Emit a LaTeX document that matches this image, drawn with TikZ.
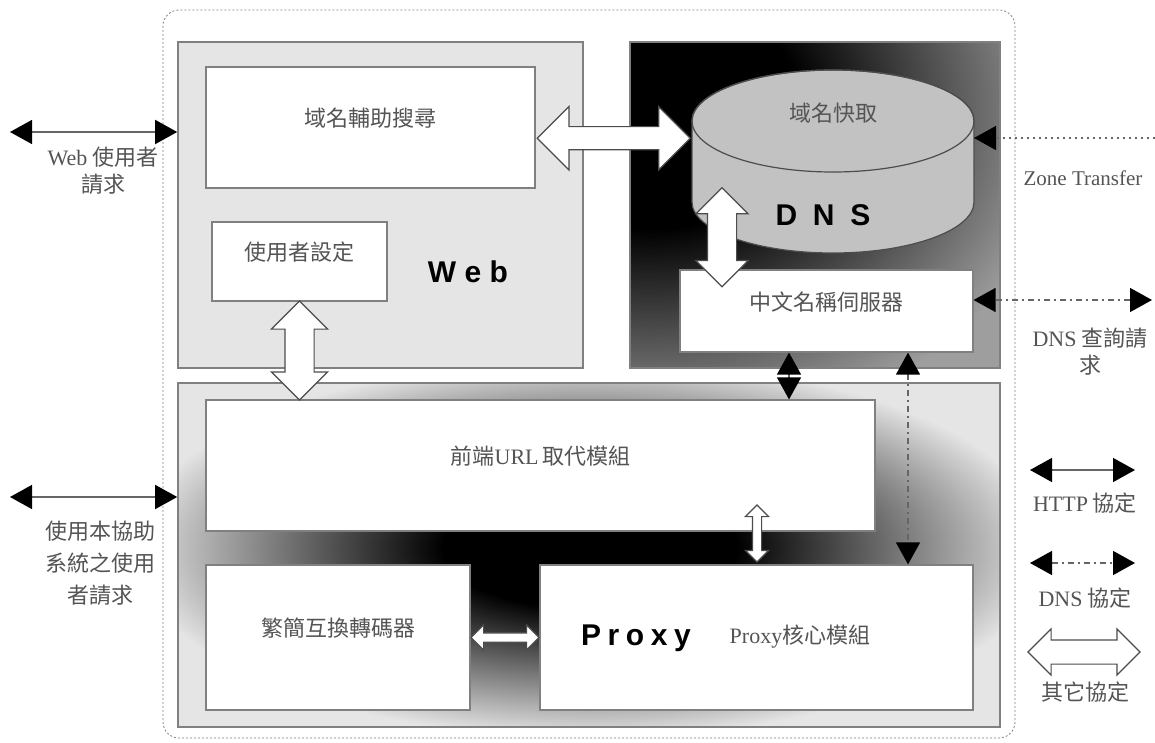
\documentclass[tikz,border=0pt]{standalone}
\usepackage{fontspec}
\setmainfont{Liberation Serif}
\setsansfont{Liberation Sans}
\newfontfamily\zhfont{Noto Sans CJK TC}
\usetikzlibrary{positioning,arrows.meta,shapes.arrows,calc,fit}

\definecolor{panelgray}{gray}{0.9}
\definecolor{edgegray}{gray}{0.5}
\definecolor{textgray}{gray}{0.33}
\definecolor{drumgray}{gray}{0.76}
\definecolor{dnsgray}{gray}{0.62}

% sfumature dei pannelli
\pgfdeclareradialshading{dnsglow}{\pgfpoint{0bp}{0bp}}{color(0bp)=(black); color(9bp)=(black); color(25bp)=(dnsgray); color(50bp)=(dnsgray)}
\pgfdeclareradialshading{proxyglow}{\pgfpoint{0bp}{0bp}}{color(0bp)=(black); color(8bp)=(black); color(25bp)=(panelgray); color(50bp)=(panelgray)}

\tikzset{
  panel/.style={draw=edgegray, line width=0.8pt, inner sep=0pt},
  box/.style={draw=edgegray, fill=white, line width=0.6pt, inner sep=0pt},
  zh/.style={font=\zhfont\fontsize{11}{13.5}\selectfont, text=textgray, align=center},
  en/.style={font=\rmfamily\fontsize{10.5}{13.5}\selectfont, text=textgray, align=center},
  tag/.style={font=\sffamily\bfseries\fontsize{15}{15}\selectfont, text=black},
  fat/.style={double arrow, draw=black!70, fill=white, line width=0.6pt,
    inner sep=0pt, text depth=0pt, double arrow tip angle=90},
  >={Triangle[length=11pt, width=12pt, color=black]},
  link/.style={draw=black!60, line width=0.7pt},
  dnslink/.style={link, dash pattern=on 3pt off 2pt on 1pt off 2pt},
}

\begin{document}
\begin{tikzpicture}[x=0.5pt, y=-0.5pt]
    \useasboundingbox (0,0) rectangle (1155,743);

    % cornice puntinata
    \draw[edgegray, dash pattern=on 1pt off 1pt, rounded corners=8pt] (163,10) rectangle (1015,738);

    % pannello Web
    \node[panel, fill=panelgray, fit={(178,42) (583,368)}] (web) {};

    % pannello DNS
    \fill[dnsgray] (630,42) rectangle (1000,368);
    \begin{scope}
        \clip (630,42) rectangle (1000,368);
        \shade[shading=dnsglow] (650,110) ellipse (420 and 330);
    \end{scope}
    \node[panel, fit={(630,42) (1000,368)}] (dns) {};

    % pannello Proxy
    \fill[panelgray] (178,383) rectangle (1000,727);
    \begin{scope}
        \clip (178,383) rectangle (1000,727);
        \shade[shading=proxyglow] (590,548) ellipse (460 and 190);
    \end{scope}
    \node[panel, fit={(178,383) (1000,727)}] (proxy) {};

    % riquadri interni
    \node[box, zh, fit={(206,67) (535,188)}] (search) {域名輔助搜尋};
    \node[box, zh, fit={(212,222) (387,301)}] (setting) {使用者設定};
    \node[box, zh, fit={(680,270) (973,352)}] (name) {中文名稱伺服器};
    \node[box, zh, fit={(206,400) (875,531)}] (url) {前端{\rmfamily URL\,}取代模組};
    \node[box, zh, fit={(206,565) (470,710)}] (conv) {繁簡互換轉碼器};
    \node[box, fit={(540,565) (973,710)}] (core) {};

    % cilindro della cache
    \path[draw=black!70, fill=drumgray, line width=0.6pt] (692,121) -- (692,202)
        arc[start angle=180, end angle=0, x radius=141, y radius=51] -- (974,121)
        arc[start angle=0, end angle=-180, x radius=141, y radius=51] -- cycle;
    \draw[black!70, line width=0.6pt] (833,121) ellipse [x radius=141, y radius=51];
    \coordinate (cache-w) at (692,149);
    \coordinate (cache-e) at (974,138);
    \coordinate (cache-s) at (722,188);

    % scritte
    \node[zh] (cachetxt) at (833,113) {域名快取};
    \node[tag] (webtag) at (468,272) {W\kern4.2pt e\kern4.2pt b};
    \node[tag] (dnstag) at (823,215) {D\kern7.9pt N\kern7.9pt S};
    \node[tag] (proxytag) at (636,638) {P\kern3.3pt r\kern3.3pt o\kern3.3pt x\kern3.3pt y};
    \node[zh] (coretxt) at (800,637) {{\rmfamily Proxy}核心模組};

    % frecce larghe
    \node[fat, minimum height=76.5pt, text height=11pt, double arrow head extend=10pt]
        (a1) at ($(search.east)!0.5!(cache-w)$) {};
    \node[fat, rotate=90, minimum height=49.5pt, text height=14pt, double arrow head extend=5.75pt]
        (a2) at ($(cache-s)!0.5!(cache-s |- name.north)+(0,8.5)$) {};
    \node[fat, rotate=90, minimum height=49.5pt, text height=14pt, double arrow head extend=6.75pt]
        (a3) at ($(setting.south)!0.5!(setting.south |- url.north)$) {};
    \node[fat, rotate=90, minimum height=28.5pt, text height=4pt, double arrow head extend=3.5pt]
        (a4) at (757,533.5) {};
    \node[fat, minimum height=34pt, text height=4pt, double arrow head extend=4pt]
        (a5) at ($(conv.east)!0.5!(core.west)$) {};

    % richieste esterne
    \coordinate (webuser) at (10,132);
    \coordinate (proxyuser) at (10,497);
    \draw[link, <->] (webuser) -- (webuser -| web.west);
    \draw[link, <->] (proxyuser) -- (proxyuser -| proxy.west);
    \node[zh] (webusertxt) at (103,171) {{\rmfamily Web} 使用者\\請求};
    \node[zh, font=\zhfont\fontsize{11}{16}\selectfont] (proxyusertxt) at (100,563) {使用本協助\\系統之使用\\者請求};

    % zone transfer e richieste DNS
    \coordinate (zt) at (1155,138);
    \draw[link, dash pattern=on 1pt off 2pt, ->] (zt) -- (cache-e);
    \node[en] (zttxt) at (1083,178) {Zone Transfer};
    \coordinate (dnsq) at (1152,300);
    \draw[dnslink, <->] (dnsq) -- (dnsq -| name.east);
    \node[zh] (dnsqtxt) at (1090,352) {{\rmfamily DNS} 查詢請\\求};

    % collegamenti DNS verso il Proxy
    \draw[dnslink, <->] ([xshift=-18.75pt]name.south) -- ([xshift=-18.75pt]name.south |- url.north);
    \draw[dnslink, <->] ([xshift=40.75pt]name.south) -- ([xshift=40.75pt]name.south |- core.north);

    % legenda
    \coordinate (l1a) at (1030,470);
    \coordinate (l1b) at (1135,470);
    \draw[link, <->] (l1a) -- (l1b);
    \node[zh] (l1txt) at (1085,503) {{\rmfamily HTTP} 協定};
    \coordinate (l2a) at (1030,563);
    \coordinate (l2b) at (1135,563);
    \draw[dnslink, <->] (l2a) -- (l2b);
    \node[zh] (l2txt) at (1085,598) {{\rmfamily DNS} 協定};
    \node[fat, minimum height=56pt, text height=11.5pt, double arrow head extend=5.5pt]
        (l3) at (1084,652) {};
    \node[zh] (l3txt) at (1085,692) {其它協定};
\end{tikzpicture}
\end{document}
